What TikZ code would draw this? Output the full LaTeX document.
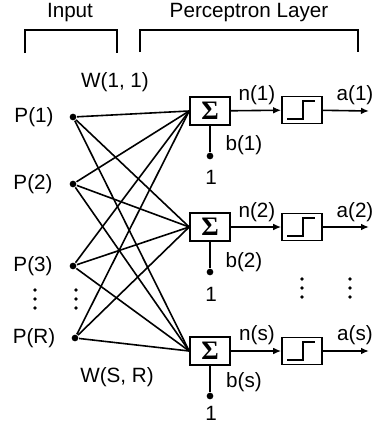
\documentclass[tikz,border=0pt]{standalone}
\usepackage{fontspec}
\setmainfont{Liberation Sans}
\newfontfamily\sigmafont{Liberation Serif}
\usetikzlibrary{arrows.meta}
\begin{document}
\begin{tikzpicture}[x=0.75pt,y=-0.75pt,line width=1.2pt,
    every node/.style={font=\fontsize{15.5}{17}\selectfont},
    dot/.style={circle,fill,inner sep=0pt,minimum size=5pt},
    sumbox/.style={draw,inner sep=0pt,minimum width=30pt,minimum height=21pt,
      font=\sigmafont\bfseries\fontsize{20}{20}\selectfont},
    hardlim/.style={draw,inner sep=0pt,minimum width=30pt,minimum height=20pt},
    arr/.style={-{Latex[length=6pt,width=5pt]}}]
  \useasboundingbox (0,0) rectangle (376,425);
  % headers
  \draw
    (70,13) node (input){Input}
    (249,13) node (layer){Perceptron Layer};
  \draw (25,53) -- (25,30) -- (117,30) -- (117,53);
  \draw (140,52) -- (140,30) -- (358,30) -- (358,52);
  % inputs
  \draw
    (34,117) node (P1){P(1)}
    (33,184) node (P2){P(2)}
    (33,266) node (P3){P(3)}
    (34,338) node (PR){P(R)}
    (115,82) node (w11){W(1, 1)}
    (117,377) node (wsr){W(S, R)};
  \node[dot] (x1) at (73,117) {};
  \node[dot] (x2) at (73,184) {};
  \node[dot] (x3) at (73,266) {};
  \node[dot] (xr) at (75,338) {};
  % summing junctions and hard limits
  \node[sumbox] (s1) at (210,111) {Σ};
  \node[sumbox] (s2) at (210,227) {Σ};
  \node[sumbox] (s3) at (210,351) {Σ};
  \node[hardlim] (f1) at (302,110) {};
  \node[hardlim] (f2) at (302,227) {};
  \node[hardlim] (f3) at (302,351) {};
  \node[dot] (d1) at (210,156) {};
  \node[dot] (d2) at (210,272) {};
  \node[dot] (d3) at (210,396) {};
  \coordinate (o1) at (369,111);
  \coordinate (o2) at (369,227);
  \coordinate (o3) at (369,351);
  \draw
    (244,145) node (b1){b(1)}
    (244,262) node (b2){b(2)}
    (244,382) node (b3){b(s)}
    (211,177) node (one1){1}
    (211,294) node (one2){1}
    (211,413) node (one3){1}
    (257,95) node (n1){n(1)}
    (257,212) node (n2){n(2)}
    (257,335) node (n3){n(s)}
    (355,95) node (a1){a(1)}
    (355,212) node (a2){a(2)}
    (355,335) node (a3){a(s)};
  % weights
  \begin{scope}[-]
    \draw (x1) to (s1.west);
    \draw (x1) to (s2.west);
    \draw (x1) to (s3.west);
    \draw (x2) to (s1.west);
    \draw (x2) to (s2.west);
    \draw (x2) to (s3.west);
    \draw (x3) to (s1.west);
    \draw (x3) to (s2.west);
    \draw (x3) to (s3.west);
    \draw (xr) to (s1.west);
    \draw (xr) to (s2.west);
    \draw (xr) to (s3.west);
    \draw (s1) to (d1);
    \draw (s2) to (d2);
    \draw (s3) to (d3);
  \end{scope}
  \draw[arr] (s1) -- (f1);
  \draw[arr] (s2) -- (f2);
  \draw[arr] (s3) -- (f3);
  \draw[arr] (f1) -- (o1);
  \draw[arr] (f2) -- (o2);
  \draw[arr] (f3) -- (o3);
  % step glyphs
  \draw[line width=1pt] ([shift={(-15,9)}]f1.center) -- ++(16,0) -- ++(0,-18) -- ++(12,0);
  \draw[line width=1pt] ([shift={(-15,9)}]f2.center) -- ++(16,0) -- ++(0,-18) -- ++(12,0);
  \draw[line width=1pt] ([shift={(-15,9)}]f3.center) -- ++(16,0) -- ++(0,-18) -- ++(12,0);
  % ellipses
  \fill (35,290) circle (1.8) (35,299) circle (1.8) (35,308) circle (1.8);
  \fill (76,290) circle (1.8) (76,299) circle (1.8) (76,308) circle (1.8);
  \fill (302,279) circle (1.8) (302,288) circle (1.8) (302,297) circle (1.8);
  \fill (350,279) circle (1.8) (350,288) circle (1.8) (350,297) circle (1.8);
\end{tikzpicture}
\end{document}
